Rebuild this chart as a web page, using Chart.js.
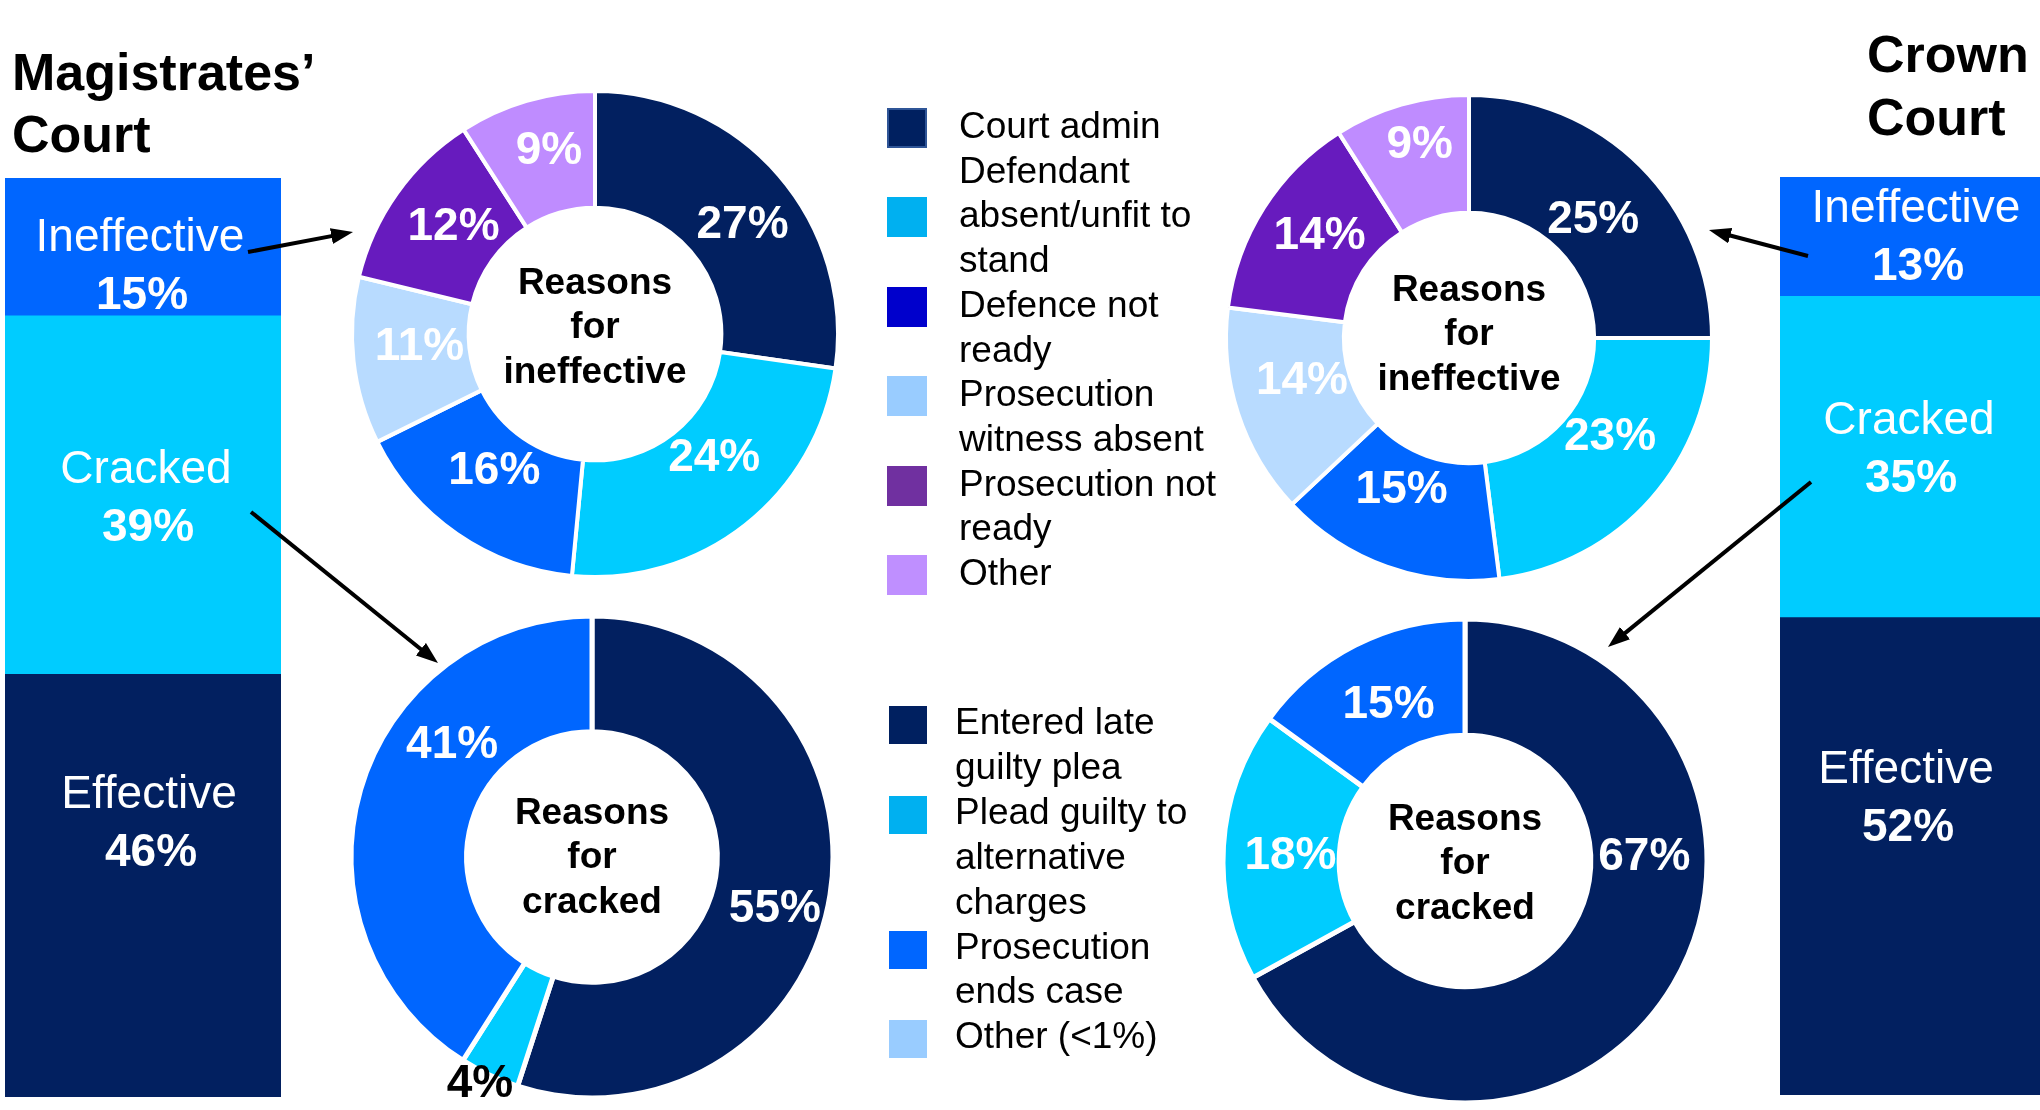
<!DOCTYPE html>
<html>
<head>
<meta charset="utf-8">
<script src="https://cdn.jsdelivr.net/npm/chart.js@4.4.1/dist/chart.umd.min.js"></script>
<style>
  body { margin: 0; width: 2040px; height: 1110px; overflow: hidden; background: #fff;
         position: relative; font-family: "Liberation Sans", Arial, sans-serif; }
  canvas, .abs { position: absolute; }
  .court { font-weight: bold; font-size: 52px; color: #000; }
  .legend { font-size: 37px; line-height: 44.7px; color: #000; }
  .legend .item { position: relative; }
  .legend .sq { position: absolute; left: 0; }
  .legend .txt { display: block; }
</style>
</head>
<body>

<div class="abs court" style="left:12px;top:41px;line-height:62px">Magistrates’<br>Court</div>
<div class="abs court" style="left:1867px;top:23px;line-height:63px">Crown<br>Court</div>

<canvas id="magBar" width="276" height="919" style="left:5px;top:178px"></canvas>
<canvas id="crownBar" width="260" height="918" style="left:1780px;top:177px"></canvas>

<canvas id="magIneff" width="500" height="500" style="left:345px;top:84px"></canvas>
<canvas id="crownIneff" width="500" height="500" style="left:1219px;top:88px"></canvas>
<canvas id="magCracked" width="500" height="500" style="left:342px;top:607px"></canvas>
<canvas id="crownCracked" width="500" height="500" style="left:1215px;top:611px"></canvas>

<div id="legendIneff" class="abs legend" style="left:887px;top:104px"></div>
<div id="legendCracked" class="abs legend" style="left:889px;top:700px;line-height:44.9px"></div>

<svg id="arrows" class="abs" width="2040" height="1110" style="left:0;top:0;pointer-events:none">
  <defs>
    <marker id="ah" markerUnits="userSpaceOnUse" markerWidth="22" markerHeight="16" refX="8" refY="8" orient="auto">
      <path d="M0,0 L22,8 L0,16 z" fill="#000"/>
    </marker>
  </defs>
</svg>

<script>
// outcome of listed trials (share of all trials)
const outcomeNames = ['Ineffective', 'Cracked', 'Effective'];
const magOutcome = [15, 39, 46];
const crownOutcome = [13, 35, 52];

// reasons for ineffective trials
const ineffReasons = ['Court admin', 'Defendant absent/unfit to stand', 'Defence not ready',
  'Prosecution witness absent', 'Prosecution not ready', 'Other'];
const magIneff = [27, 24, 16, 11, 12, 9];
const crownIneff = [25, 23, 15, 14, 14, 9];

// reasons for cracked trials
const crackReasons = ['Entered late guilty plea', 'Plead guilty to alternative charges',
  'Prosecution ends case', 'Other (<1%)'];
const magCracked = [55, 4, 41, 0];
const crownCracked = [67, 18, 15, 0];

const FONT = '"Liberation Sans", Arial, sans-serif';
const NAVY = '#022060', CYAN = '#00CCFF', BLUE = '#0066FF';

const outcomeColors = [BLUE, CYAN, NAVY];
const ineffColors = [NAVY, CYAN, BLUE, '#B8DBFF', '#671BBE', '#BF8CFF'];
const crackColors = [NAVY, CYAN, BLUE, '#B8DBFF'];
const ineffLegendColors = ['#002060', '#00B0F0', '#0000CC', '#99CCFF', '#7030A0', '#BF8FFF'];
const crackLegendColors = ['#002060', '#00B0F0', '#0066FF', '#99CCFF'];

// stacked single bar per court, labels drawn inside each segment
function stackBar(id, values, yShift, xShift) {
  const order = [2, 1, 0]; // bottom to top: effective, cracked, ineffective
  const labelPlugin = {
    id: 'segLabels',
    afterDatasetsDraw(chart) {
      const ctx = chart.ctx;
      ctx.save();
      ctx.fillStyle = '#fff';
      ctx.textAlign = 'center';
      ctx.textBaseline = 'alphabetic';
      chart.data.datasets.forEach((ds, i) => {
        const bar = chart.getDatasetMeta(i).data[0];
        const k = order[i];
        const mid = (bar.y + bar.base) / 2 + yShift[k];
        const x = bar.x + xShift[k];
        ctx.font = '46px ' + FONT;
        ctx.fillText(ds.label, x, mid - 12);
        ctx.font = 'bold 46px ' + FONT;
        ctx.fillText(ds.data[0] + '%', x + 2, mid + 46);
      });
      ctx.restore();
    }
  };
  new Chart(document.getElementById(id), {
    type: 'bar',
    data: {
      labels: [''],
      datasets: order.map(k => ({
        label: outcomeNames[k],
        data: [values[k]],
        backgroundColor: outcomeColors[k],
        borderWidth: 0,
        barPercentage: 1,
        categoryPercentage: 1
      }))
    },
    options: {
      responsive: false,
      animation: false,
      layout: { padding: 0 },
      plugins: { legend: { display: false }, tooltip: { enabled: false } },
      scales: {
        x: { stacked: true, display: false },
        y: { stacked: true, display: false, min: 0, max: 100 }
      }
    },
    plugins: [labelPlugin]
  });
}

// doughnut with % labels on the ring and a caption in the hole
function donut(id, values, colors, opt) {
  const labelPlugin = {
    id: 'ringLabels',
    afterDatasetsDraw(chart) {
      const ctx = chart.ctx;
      const arcs = chart.getDatasetMeta(0).data;
      ctx.save();
      ctx.textAlign = 'center';
      ctx.textBaseline = 'middle';
      ctx.font = 'bold 46px ' + FONT;
      arcs.forEach((arc, i) => {
        if (!values[i]) return;
        const p = arc.getCenterPoint();
        const n = opt.nudge[i] || [0, 0];
        ctx.fillStyle = (opt.dark || []).includes(i) ? '#000' : '#fff';
        ctx.fillText(values[i] + '%', p.x + n[0], p.y + n[1]);
      });
      const c = arcs[0];
      ctx.fillStyle = '#000';
      ctx.font = 'bold 37px ' + FONT;
      ctx.textBaseline = 'alphabetic';
      opt.caption.forEach((t, k) => ctx.fillText(t, c.x, c.y + opt.capY + (k - 1) * 44.5));
      ctx.restore();
    }
  };
  new Chart(document.getElementById(id), {
    type: 'doughnut',
    data: {
      labels: opt.labels,
      datasets: [{
        data: values,
        backgroundColor: colors,
        borderColor: '#fff',
        borderWidth: opt.border,
        hoverOffset: 0
      }]
    },
    options: {
      responsive: false,
      animation: false,
      radius: opt.radius,
      cutout: opt.cutout,
      layout: { padding: 0 },
      plugins: { legend: { display: false }, tooltip: { enabled: false } }
    },
    plugins: [labelPlugin]
  });
}

stackBar('magBar', magOutcome, [16, 0, -66], [-3, 3, 6]);
stackBar('crownBar', crownOutcome, [-3, -11, -61], [6, -1, -4]);

donut('magIneff', magIneff, ineffColors, {
  labels: ineffReasons, radius: 243, cutout: '52%', border: 4, capY: 4,
  caption: ['Reasons', 'for', 'ineffective'],
  nudge: [[8, 12], [5, -21], [4, -15], [8, -7], [9, 0], [6, -5]]
});
donut('crownIneff', crownIneff, ineffColors, {
  labels: ineffReasons, radius: 243, cutout: '51.5%', border: 4, capY: 7,
  caption: ['Reasons', 'for', 'ineffective'],
  nudge: [[-6, 12], [3, -22], [-5, -21], [8, -14], [6, -3], [2, -16]]
});
donut('magCracked', magCracked, crackColors, {
  labels: crackReasons, radius: 241, cutout: '52%', border: 5, capY: 11,
  caption: ['Reasons', 'for', 'cracked'],
  nudge: [[2, 24], [-34, 62], [36, -61], [0, 0]], dark: [1]
});
donut('crownCracked', crownCracked, crackColors, {
  labels: crackReasons, radius: 242, cutout: '52%', border: 5, capY: 13,
  caption: ['Reasons', 'for', 'cracked'],
  nudge: [[21, -97], [9, 7], [7, 8], [0, 0]]
});

// html legends (labels wrap like the original)
function legend(id, labels, colors, sqLine, sqSize, textLeft, lineH, sqTop) {
  const box = document.getElementById(id);
  labels.forEach((lab, i) => {
    const item = document.createElement('div');
    item.className = 'item';
    item.style.paddingLeft = textLeft + 'px';
    const sq = document.createElement('span');
    sq.className = 'sq';
    sq.style.width = sqSize + 'px';
    sq.style.height = sqSize + 'px';
    sq.style.background = colors[i];
    sq.style.top = (sqLine[i] * lineH + sqTop) + 'px';
    if (i === 0 && id === 'legendIneff') { sq.style.boxSizing = 'border-box'; sq.style.border = '2px solid #2F5597'; }
    const t = document.createElement('span');
    t.className = 'txt';
    t.style.width = '262px';
    t.textContent = lab;
    item.appendChild(sq);
    item.appendChild(t);
    box.appendChild(item);
  });
}
legend('legendIneff', ineffReasons, ineffLegendColors, [0, 1, 0, 0, 0, 0], 40, 72, 44.7, 4);
legend('legendCracked', crackReasons, crackLegendColors, [0, 0, 0, 0], 38, 66, 44.9, 6);

// connector arrows from bar segments to the matching doughnut
const arrows = [
  [248, 252, 353, 232],
  [251, 512, 438, 663],
  [1808, 256, 1709, 230],
  [1811, 482, 1608, 647]
];
const svg = document.getElementById('arrows');
arrows.forEach(([x1, y1, x2, y2]) => {
  const len = Math.hypot(x2 - x1, y2 - y1);
  const ux = (x2 - x1) / len, uy = (y2 - y1) / len;
  const line = document.createElementNS('http://www.w3.org/2000/svg', 'line');
  line.setAttribute('x1', x1);
  line.setAttribute('y1', y1);
  line.setAttribute('x2', x2 - ux * 14);
  line.setAttribute('y2', y2 - uy * 14);
  line.setAttribute('stroke', '#000');
  line.setAttribute('stroke-width', 4);
  line.setAttribute('marker-end', 'url(#ah)');
  svg.appendChild(line);
});
</script>
</body>
</html>
